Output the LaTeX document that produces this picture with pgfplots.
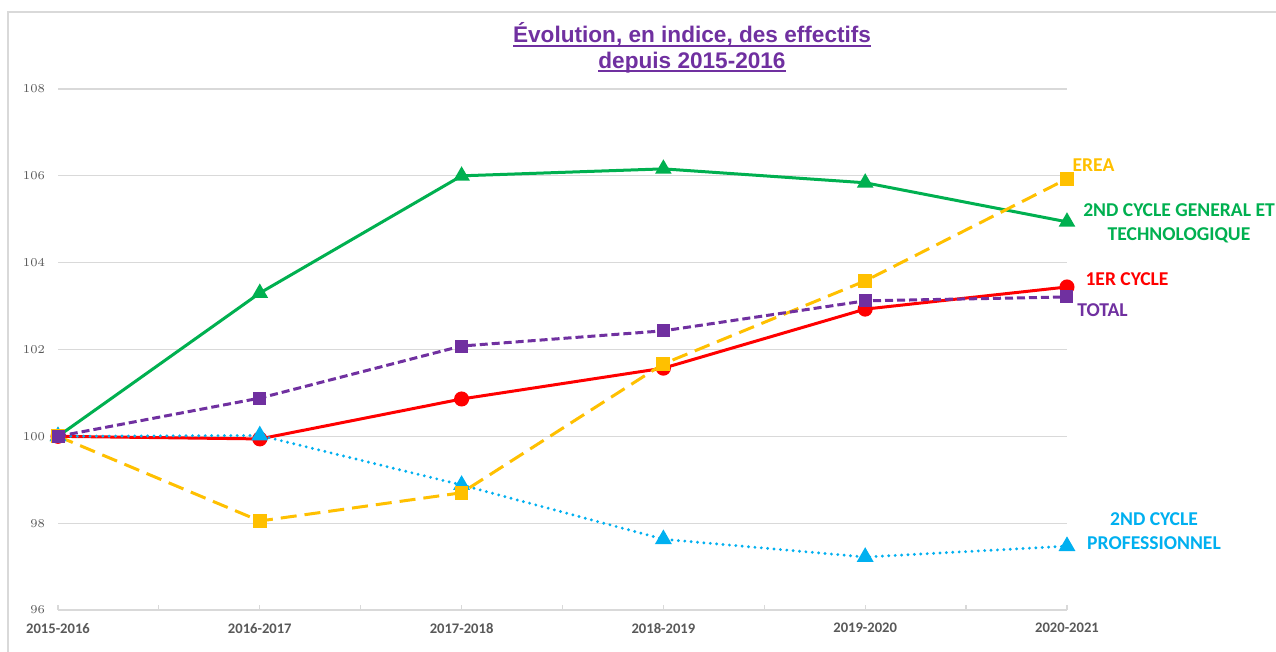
\documentclass[border=0pt]{standalone}
\usepackage{pgfplots}
\pgfplotsset{compat=1.18}
\usepackage{fontspec}
\setmainfont{Carlito}
\newfontfamily\titlefont{Liberation Sans}
\definecolor{cgreen}{HTML}{00B050}
\definecolor{cred}{HTML}{FF0000}
\definecolor{cpurple}{HTML}{7030A0}
\definecolor{cyellow}{HTML}{FFC000}
\definecolor{cblue}{HTML}{00B0F0}
\definecolor{ctick}{HTML}{595959}
\definecolor{cgrid}{HTML}{D9D9D9}
\newcommand\ul[1]{\setbox0\hbox{#1}\rlap{\rule[-2pt]{\wd0}{1pt}}\box0}
\begin{document}
\begin{tikzpicture}
\useasboundingbox (0,0) rectangle (638pt,326pt);
\fill[white] (0,0) rectangle (638pt,326pt);
\draw[cgrid, line width=0.6pt] (4pt,0) -- (4pt,320pt) -- (638pt,320pt);
\begin{axis}[
  at={(29pt,21pt)}, anchor=south west,
  scale only axis, width=504.5pt, height=260.5pt,
  xmin=0, xmax=5, ymin=96, ymax=108,
  clip=false,
  axis x line*=bottom, axis y line*=left,
  x axis line style={draw=cgrid, line width=0.6pt, -},
  y axis line style={draw=none},
  ytick={96,98,...,108},
  ytick style={draw=none},
  ymajorgrids, grid style={draw=cgrid, line width=0.6pt},
  xtick={0,1,2,3,4,5},
  xticklabels={2015-2016,2016-2017,2017-2018,2018-2019,2019-2020,2020-2021},
  minor xtick={0.5,1.5,2.5,3.5,4.5},
  tick align=inside,
  major tick length=2.5pt, minor tick length=2.5pt,
  x tick style={draw=cgrid, line width=0.6pt},
  xticklabel style={font=\fontsize{7.3}{8}\selectfont\bfseries, text=ctick, yshift=-3pt},
  yticklabel style={font=\fontsize{6}{7}\selectfont, text=ctick, xshift=-3pt},
]
\addplot[cred, line width=1.5pt, mark=*, mark size=3pt, mark options={solid}] coordinates {
 (0,100) (1,99.94) (2,100.86) (3,101.57) (4,102.93) (5,103.44)};
\addplot[cgreen, line width=1.5pt, mark=triangle*, mark size=3.3pt, mark options={solid}] coordinates {
 (0,100) (1,103.30) (2,106.0) (3,106.16) (4,105.84) (5,104.94)};
\addplot[cblue, line width=1.6pt, line cap=round, dash pattern=on 0pt off 3.2pt, mark=triangle*, mark size=3.3pt, mark options={solid}] coordinates {
 (0,100) (1,100.02) (2,98.88) (3,97.63) (4,97.22) (5,97.47)};
\addplot[cyellow, line width=1.5pt, dash pattern=on 8pt off 4pt, mark=square*, mark size=2.7pt, mark options={solid}] coordinates {
 (0,100) (1,98.05) (2,98.70) (3,101.67) (4,103.58) (5,105.93)};
\addplot[cpurple, line width=1.5pt, dash pattern=on 4pt off 2pt, mark=square*, mark size=2.5pt, mark options={solid}] coordinates {
 (0,100) (1,100.88) (2,102.08) (3,102.43) (4,103.12) (5,103.21)};
\end{axis}
\node[font=\titlefont\fontsize{11.3}{12.8}\selectfont\bfseries, text=cpurple, align=center] at (346pt,302pt)
  {\ul{Évolution, en indice, des effectifs}\\\ul{depuis 2015-2016}};
\begin{scope}[every node/.style={font=\fontsize{9.8}{12}\selectfont\bfseries, align=center}]
\node[text=cyellow] at (546.75pt,243.5pt) {EREA};
\node[text=cgreen] at (589.5pt,214.5pt) {2ND CYCLE GENERAL ET\\TECHNOLOGIQUE};
\node[text=cred] at (563.5pt,186.5pt) {1ER CYCLE};
\node[text=cpurple] at (551.25pt,171pt) {TOTAL};
\node[text=cblue] at (577pt,60.25pt) {2ND CYCLE\\PROFESSIONNEL};
\end{scope}
\end{tikzpicture}
\end{document}
